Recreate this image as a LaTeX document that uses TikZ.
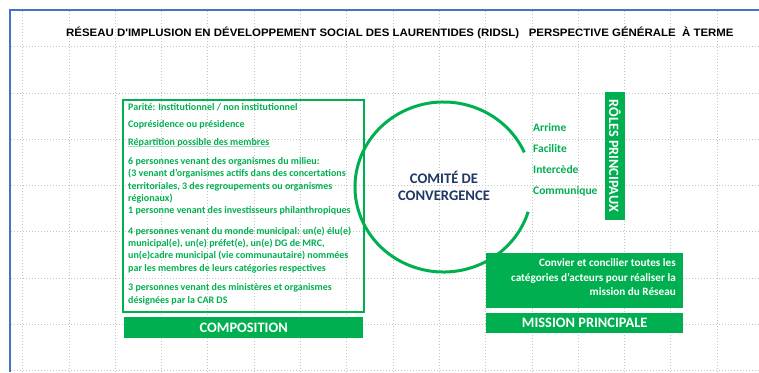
\documentclass[tikz,border=0pt]{standalone}
\usepackage{fontspec}
\setmainfont{Carlito}
\newfontfamily\titlefont{Liberation Sans Bold}
\definecolor{ogreen}{HTML}{00B050}
\definecolor{navy}{HTML}{1F3864}
\definecolor{frameblue}{HTML}{4472C4}
\definecolor{gridgray}{HTML}{C4C4C4}
\definecolor{lightgreen}{HTML}{A6DDBC}

\begin{document}
\begin{tikzpicture}[x=1pt,y=-1pt,
  gridline/.style={gridgray, line width=0.9pt, dash pattern=on 0.9pt off 2.1pt},
  greentext/.style={text=ogreen, font=\fontsize{10}{12.3}\selectfont\bfseries,
    align=left, inner sep=0pt, anchor=north west},
  bar/.style={fill=ogreen, text=white, inner sep=0pt,
    font=\fontsize{14.4}{17}\selectfont\bfseries},
  greenbox/.style={fill=ogreen, inner sep=0pt, anchor=north west}
]
\useasboundingbox (0,0) rectangle (759,372);
\fill[white] (0,0) rectangle (759,372);

% dotted background grid
\foreach \i in {0,...,15}
  \draw[gridline] ({22.7+46.3*\i},11) -- ({22.7+46.3*\i},372);
\foreach \j in {0,...,7}
  \draw[gridline] (11,{46.7+46.3*\j}) -- (759,{46.7+46.3*\j});

% page frame
\draw[frameblue, line width=1.6pt] (10,372) -- (10,10) -- (759,10);

% heading
\node[anchor=base west, inner sep=0pt,
      font=\titlefont\fontsize{10.8}{12}\selectfont] (title) at (66,36)
  {\scalebox{1.06}[1]{RÉSEAU D'IMPLUSION EN DÉVELOPPEMENT SOCIAL DES LAURENTIDES (RIDSL)\hspace{6pt} PERSPECTIVE GÉNÉRALE\hspace{3pt} À TERME}};

% composition panel
\node[draw=ogreen, line width=1.8pt, minimum width=241pt, minimum height=212pt,
      anchor=north west, inner sep=0pt] (compbox) at (122,99) {};
\node[greentext] (p1) at (128,101.4) {\strut Parité: Institutionnel / non institutionnel};
\node[greentext] (p2) at (128,118.9) {\strut Coprésidence ou présidence};
\node[greentext] (p3) at (128,136.4) {\strut Répartition possible des membres};
\draw[lightgreen, line width=1.3pt] ([yshift=-1pt]p3.base west) -- ([yshift=-1pt]p3.base east);
\node[greentext] (p4) at (128,155.6) {\strut 6 personnes venant des organismes du milieu:\\
  (3 venant d’organismes actifs dans des concertations\\
  territoriales, 3 des regroupements ou organismes\\
  régionaux)\\
  1 personne venant des investisseurs philanthropiques};
\node[greentext] (p5) at (128,225.4) {\strut 4 personnes venant du monde municipal: un(e) élu(e)\\
  municipal(e), un(e) préfet(e), un(e) DG de MRC,\\
  un(e)cadre municipal (vie communautaire) nommées\\
  par les membres de leurs catégories respectives};
\node[greentext] (p6) at (128,281.9) {\strut 3 personnes venant des ministères et organismes\\
  désignées par la CAR DS};
\node[bar, greenbox, minimum width=239pt, minimum height=20.5pt] (compbar) at (124,317) {COMPOSITION};

% committee ring, open towards the roles
\coordinate (comite) at (443.5,187);
\draw[ogreen, line width=3pt] (comite) ++(24:88.5pt and 85pt)
  arc[start angle=24, end angle=343, x radius=88.5pt, y radius=85pt];
\node[anchor=north, align=center, inner sep=0pt, text=navy,
      font=\fontsize{14.6}{17.7}\selectfont\bfseries] (comitetext) at (444,170.6)
  {\strut COMITÉ DE\\ CONVERGENCE};

% roles
\node[anchor=north west, align=left, inner sep=0pt, text=ogreen,
      font=\fontsize{11.5}{21.2}\selectfont\bfseries] (roles) at (533,116)
  {\strut Arrime\\ Facilite\\ Intercède\\ Communique};
\node[bar, rotate=-90, minimum width=128pt, minimum height=20.5pt,
      font=\fontsize{14.2}{17}\selectfont\bfseries] (rolesbar) at (615,156) {RÔLES PRINCIPAUX};

% mission
\node[greenbox, minimum width=197pt, minimum height=55pt] (missionbox) at (486,253) {};
\node[anchor=north east, align=right, inner sep=0pt, text=white,
      font=\fontsize{11.2}{14.5}\selectfont\bfseries] (missiontext) at (676,256.35)
  {\strut Convier et concilier toutes les\\ catégories d’acteurs pour réaliser la\\ mission du Réseau};
\node[bar, greenbox, minimum width=197pt, minimum height=20pt] (missionbar) at (486,313) {MISSION PRINCIPALE};
\end{tikzpicture}
\end{document}
